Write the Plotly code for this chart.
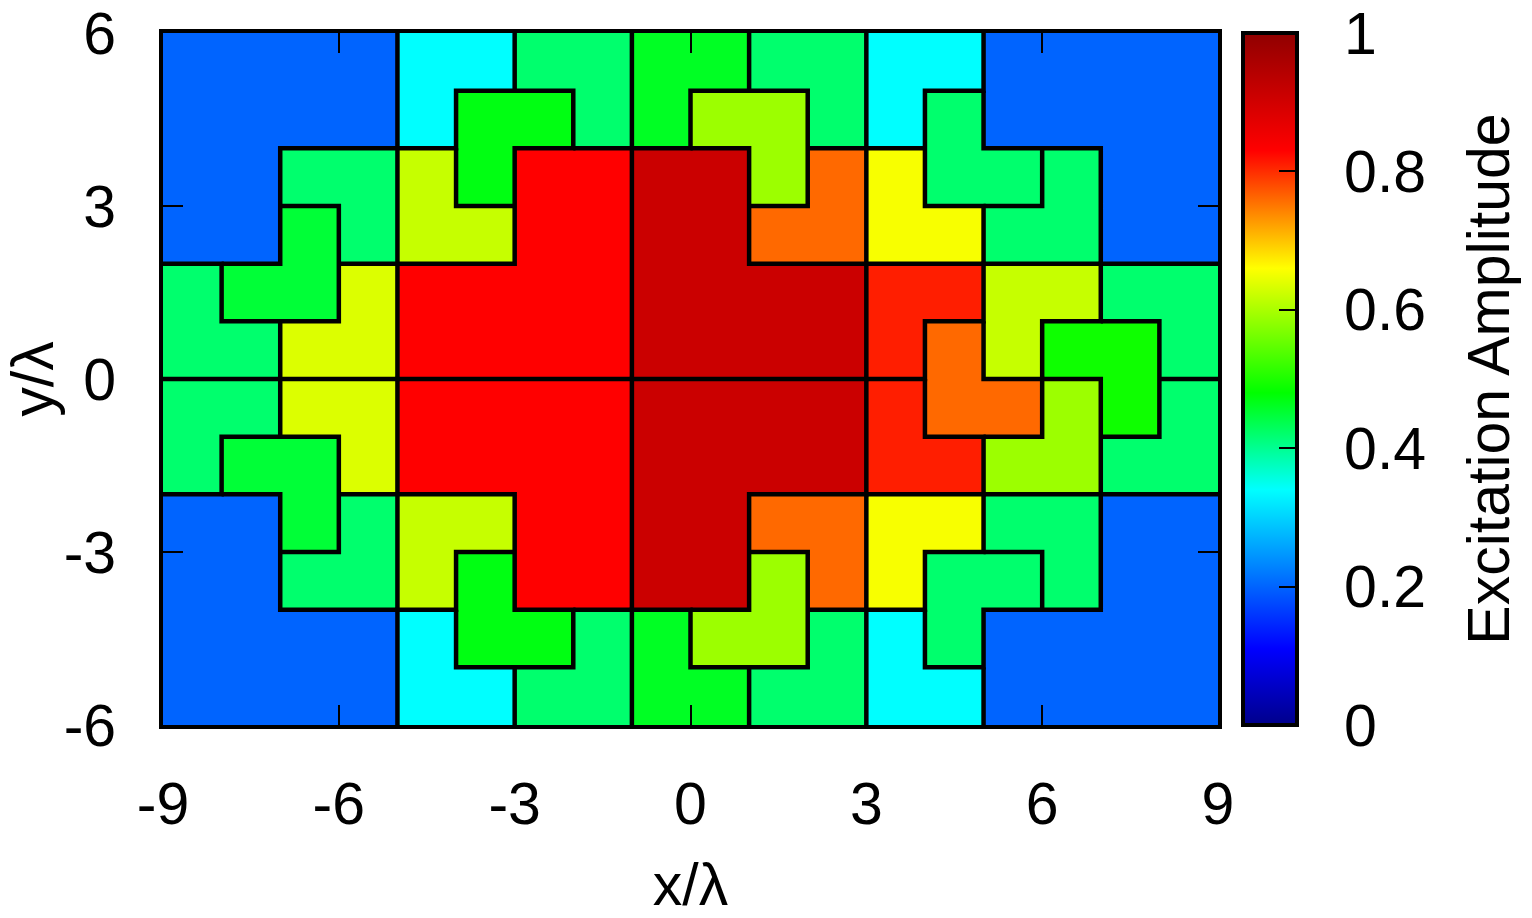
import plotly.graph_objects as go
from collections import defaultdict

# ---- data -------------------------------------------------------------
x_edges = [-9, -8, -7, -6, -5, -4, -3, -2, -1, 0, 1, 2, 3, 4, 5, 6, 7, 8, 9]
y_edges = [6, 5, 4, 3, 2, 1, 0, -1, -2, -3, -4, -5, -6]          # top -> bottom

# tile (piece) layout, one string per row, top row first, one char per cell
tiles = [
    "AAAABBCCDDEEFFGGGG",
    "AAAABHHCDIIEFJGGGG",
    "AAKKLHMMNNIOPJJQGG",
    "AARKLLMMNNOOPPQQGG",
    "SRRTMMMMNNNNUUVVWW",
    "SSTTMMMMNNNNUXVYYW",
    "aabbccccddddeXXfYg",
    "ahhbccccddddeeffgg",
    "iihjkkccddllmmnnoo",
    "iijjkpccddqlmrrnoo",
    "iiiispptuqqvwroooo",
    "iiiissttuuvvwwoooo",
]

# excitation amplitude of each tile
tile_amplitude = {
    "A": 0.20, "B": 0.34, "C": 0.42, "D": 0.46, "E": 0.42, "F": 0.34, "G": 0.20,
    "H": 0.47, "I": 0.59, "J": 0.42, "K": 0.42, "L": 0.62, "M": 0.83, "N": 0.91,
    "O": 0.76, "P": 0.655, "Q": 0.42, "R": 0.45, "S": 0.42, "T": 0.635, "U": 0.81,
    "V": 0.62, "W": 0.42, "X": 0.76, "Y": 0.49,
    "a": 0.42, "b": 0.635, "c": 0.83, "d": 0.91, "e": 0.81, "f": 0.59, "g": 0.42,
    "h": 0.45, "i": 0.20, "j": 0.42, "k": 0.62, "l": 0.76, "m": 0.655, "n": 0.42,
    "o": 0.20, "p": 0.47, "q": 0.59, "r": 0.42, "s": 0.34, "t": 0.42, "u": 0.46,
    "v": 0.42, "w": 0.34,
}

x_ticks = [-9, -6, -3, 0, 3, 6, 9]
y_ticks = [-6, -3, 0, 3, 6]
cb_ticks = [0, 0.2, 0.4, 0.6, 0.8, 1]
cb_ticktext = ["0", "0.2", "0.4", "0.6", "0.8", "1"]

# ---- build heatmap ---------------------------------------------------
nrow, ncol = len(tiles), len(tiles[0])
x_cent = [(x_edges[i] + x_edges[i + 1]) / 2 for i in range(ncol)]
y_cent = [(y_edges[j] + y_edges[j + 1]) / 2 for j in range(nrow)]
z = [[tile_amplitude[tiles[j][i]] for i in range(ncol)] for j in range(nrow)]

colorscale = [
    [0.0, "#00008b"], [0.11, "#0000ff"], [0.34, "#00ffff"], [0.48, "#00ff00"],
    [0.66, "#ffff00"], [0.83, "#ff0000"], [1.0, "#900000"],
]

FONT = "Liberation Sans, Arial, sans-serif"
FS = 59
NB = "\u00a0"
TOP = 33
BOTTOM = 193

fig = go.Figure()
fig.add_trace(go.Heatmap(
    x=x_cent, y=y_cent[::-1], z=z[::-1],
    zmin=0, zmax=1, colorscale=colorscale, hoverinfo="skip",
    colorbar=dict(
        x=(1243 - 163) / 1055, xanchor="left", xpad=0,
        y=0.5, yanchor="middle", len=1, lenmode="fraction", ypad=0,
        thickness=54, thicknessmode="pixels",
        outlinewidth=4, outlinecolor="black",
        ticks="inside", ticklen=20, tickwidth=2, tickcolor="black",
        ticklabeloverflow="allow",
        tickvals=cb_ticks,
        ticktext=[NB * 2 + t + NB + "\u2009" for t in cb_ticktext],
        tickfont=dict(family=FONT, size=FS, color="black"),
        title=dict(text="Excitation Amplitude", side="right",
                   font=dict(family=FONT, size=FS, color="black")),
    ),
))

# ---- tile boundaries from tile layout ----------------------------------
edges = []
adj = defaultdict(list)

def add_edge(a, b):
    k = len(edges)
    edges.append((a, b))
    adj[a].append(k)
    adj[b].append(k)

for j in range(nrow):
    for i in range(ncol - 1):
        if tiles[j][i] != tiles[j][i + 1]:
            add_edge((i + 1, j), (i + 1, j + 1))
for j in range(nrow - 1):
    for i in range(ncol):
        if tiles[j][i] != tiles[j + 1][i]:
            add_edge((i, j + 1), (i + 1, j + 1))

used = [False] * len(edges)
lx, ly = [], []
verts = sorted(adj, key=lambda v: (len(adj[v]) % 2 == 0, v))
for v in verts:
    for k in adj[v]:
        if used[k]:
            continue
        cur = v
        path = [cur]
        while True:
            nxt = None
            for k2 in adj[cur]:
                if not used[k2]:
                    nxt = k2
                    break
            if nxt is None:
                break
            used[nxt] = True
            a, b = edges[nxt]
            cur = b if a == cur else a
            path.append(cur)
        for (i, j) in path:
            lx.append(x_edges[i])
            ly.append(y_edges[j])
        lx.append(None)
        ly.append(None)

fig.add_trace(go.Scatter(x=lx, y=ly, mode="lines",
                         line=dict(color="black", width=4.5),
                         hoverinfo="skip", showlegend=False))

axis_common = dict(
    showgrid=False, zeroline=False, showline=True, linewidth=4, linecolor="black",
    mirror="ticks", ticks="inside", ticklen=20, tickwidth=2, tickcolor="black",
    ticklabeloverflow="allow",
    tickfont=dict(family=FONT, size=FS, color="black"),
)
fig.update_xaxes(range=[-9, 9], tickvals=x_ticks, ticktext=[str(t) for t in x_ticks],
                 ticklabelstandoff=24,
                 title=dict(text="x/λ", standoff=50,
                            font=dict(family=FONT, size=FS, color="black")),
                 **axis_common)
fig.update_yaxes(range=[-6, 6], tickvals=y_ticks, ticktext=[str(t) for t in y_ticks],
                 ticklabelstandoff=31,
                 title=dict(text="y/λ", standoff=6,
                            font=dict(family=FONT, size=FS, color="black")),
                 **axis_common)

fig.update_layout(
    width=1532, height=918,
    margin=dict(l=163, r=314, t=TOP, b=BOTTOM, autoexpand=False),
    paper_bgcolor="white", plot_bgcolor="white",
    font=dict(family=FONT, size=FS, color="black"),
    showlegend=False,
)

fig.write_html("out.html", config={"displayModeBar": False},
               post_script="document.body.style.margin='0px';")
